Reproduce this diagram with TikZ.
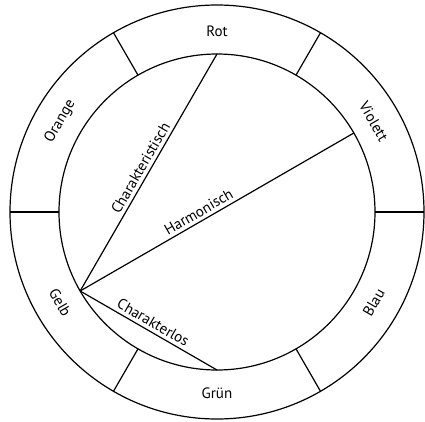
\documentclass[tikz,border=0pt]{standalone}
\usepackage{fontspec}
\setmainfont{PT Sans}
\begin{document}
\begin{tikzpicture}[x=1pt,y=1pt,line width=1.2pt,
    every node/.style={font=\fontsize{15}{17}\selectfont}]
  \useasboundingbox (-217,-209) rectangle (208,212);
  \def\rout{207}
  \def\rin{158}
  \draw (0,0) circle (\rout);
  \draw (0,0) circle (\rin);
  \foreach \a in {0,60,...,300} {
    \draw (\a:\rin) -- (\a:\rout);
  }
  % colour names in the ring
  \foreach \a/\key/\name/\rot in {90/rot/Rot/0, 30/violett/Violett/-60, 150/orange/Orange/60,
                                  210/gelb/Gelb/-60, 270/gruen/Grün/0, 330/blau/Blau/60} {
    \node[rotate=\rot] (l-\key) at (\a:181) {\name};
    \coordinate (\key) at (\a:\rin);
  }
  \draw (gelb) -- node[sloped,above] (charakteristisch) {Charakteristisch} (rot);
  \draw (gelb) -- node[sloped,above,pos=0.45] (harmonisch) {Harmonisch} (violett);
  \draw (gelb) -- node[sloped,above] (charakterlos) {Charakterlos} (gruen);
\end{tikzpicture}
\end{document}
